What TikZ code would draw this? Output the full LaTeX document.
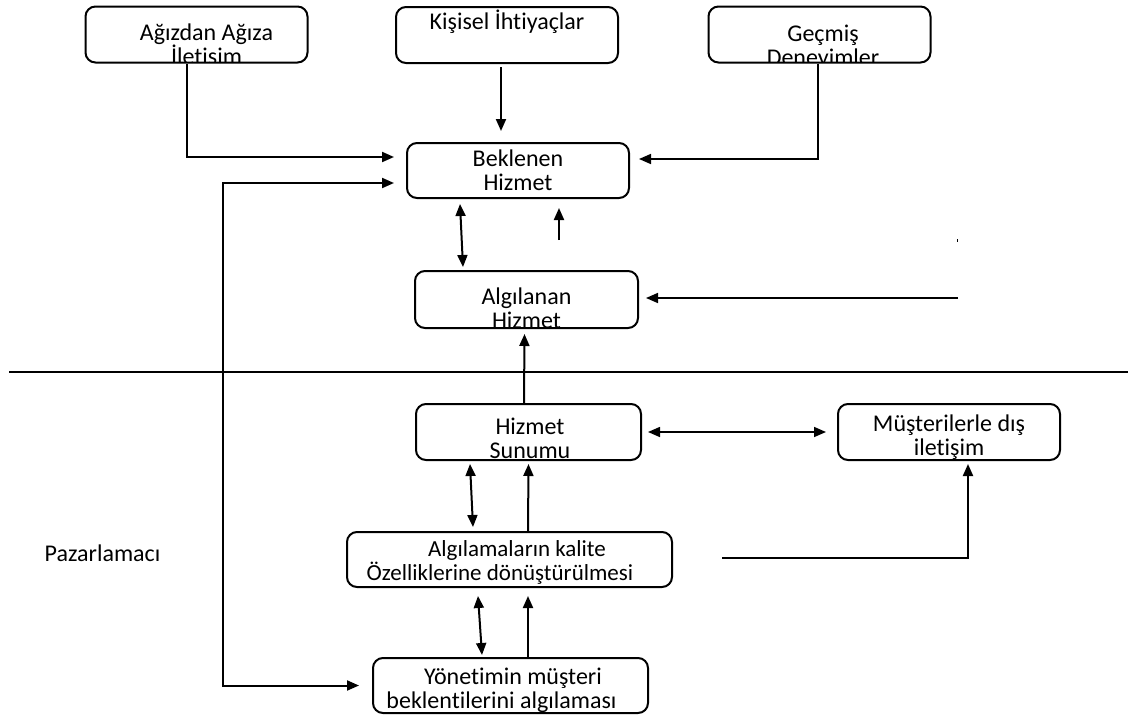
\documentclass[tikz,border=0pt]{standalone}
\usepackage{fontspec}
\setmainfont{Carlito}[Ligatures=NoCommon]
\usetikzlibrary{arrows.meta,calc}

\begin{document}
\begin{tikzpicture}[x=1pt, y=-1pt,
  yazi/.style   = {align=center, inner sep=0pt, draw=none, minimum width=0pt, minimum height=0pt,
                   font=\fontsize{\pgfkeysvalueof{/tikz/boy}}{24}\selectfont},
  ok/.style     = {-{Triangle[length=12pt,width=10pt]}, line width=2pt},
  ciftok/.style = {{Triangle[length=12pt,width=10pt]}-{Triangle[length=12pt,width=10pt]}, line width=2pt}]
  \tikzset{
    boy/.initial    = 24,
    kaydir/.initial = 0pt,
    taban/.initial  = 50pt,
    kutu/.style = {draw, line width=2pt, rounded corners=10pt, inner sep=0pt,
      minimum width=222pt, minimum height=56pt,
      path picture={\node[yazi, anchor=base] at ([xshift=\pgfkeysvalueof{/tikz/kaydir}, yshift=-\pgfkeysvalueof{/tikz/taban}]path picture bounding box.north) {#1};}}
  }
  \useasboundingbox (0,0) rectangle (1128,715);

  % ust sira
  \node[kutu={Ağızdan Ağıza\\İletişim}, kaydir=10pt, taban=58pt] (agiz) at (196.5,34.5) {};
  \node[kutu={Kişisel İhtiyaçlar}, taban=22pt] (kisisel) at (507,35) {};
  \node[kutu={Geçmiş\\Deneyimler}, kaydir=3.5pt, taban=58.5pt] (gecmis) at (819.5,34.5) {};

  \node[kutu={Beklenen\\Hizmet}, taban=47pt, minimum height=55pt] (beklenen) at (518,170.5) {};
  \node[kutu={Algılanan\\Hizmet}, taban=57.5pt, minimum width=223pt, minimum height=57pt] (algilanan) at (526.5,299.5) {};

  % pazarlamaci tarafi
  \node[kutu={Hizmet\\Sunumu}, kaydir=1.5pt, taban=54pt, minimum width=225pt] (sunum) at (528.5,432) {};
  \node[kutu={Müşterilerle dış\\iletişim}, taban=51pt] (musteri) at (949,432) {};
  \node[kutu={\hspace*{34pt}Algılamaların kalite\\Özelliklerine dönüştürülmesi}, boy=23, kaydir=-9.5pt, taban=48pt,
        minimum width=325pt, minimum height=55pt] (donusum) at (509.5,559.5) {};
  \node[kutu={\hspace*{23pt}Yönetimin müşteri\\beklentilerini algılaması}, kaydir=-9pt, taban=50pt,
        minimum width=275pt, minimum height=55pt] (yonetim) at (510.5,685.5) {};

  \node[yazi] (pazar) at (102.5,553) {Pazarlamacı};

  \coordinate (sol)      at (223,0);
  \coordinate (bos)      at (559,240);
  \coordinate (nokta)    at (957,239);
  \coordinate (sag)      at (958,298);
  \coordinate (kopuk)    at (722,558);
  \coordinate (cizgi1)   at (9,372);
  \coordinate (cizgi2)   at (1128,372);
  \coordinate (bekgiris) at ([xshift=-12pt,yshift=-12.5pt]beklenen.west);

  \draw[line width=2pt] (cizgi1) -- (cizgi2);

  \draw[ok] ([xshift=-9.5pt]agiz.south) |- ([xshift=-12pt,yshift=13.5pt]beklenen.west);
  \draw[ok] ([xshift=-6pt,yshift=-3pt]kisisel.south) -- ([xshift=-17pt,yshift=11pt]beklenen.north);
  \draw[ok, line width=1.6pt] ([xshift=-1.5pt]gecmis.south) |- ([xshift=9pt,yshift=11.5pt]beklenen.east);
  \draw[ciftok] (bekgiris) -- (bekgiris -| sol) |- ([xshift=-13pt]yonetim.west);

  \draw[ciftok] ([xshift=-58pt,yshift=-5pt]beklenen.south) -- ([xshift=-63.5pt,yshift=3pt]algilanan.north);
  \draw[ok] (bos) -- ([yshift=-9pt]beklenen.south -| bos);
  \draw[line width=1pt] (nokta) -- ++(0,2.5);
  \draw[ok, line width=1.6pt] (sag) -- ([xshift=7pt]algilanan.east |- sag);

  \draw[ok] ([xshift=-4.5pt]sunum.north) -- ([xshift=-2pt,yshift=-5pt]algilanan.south);
  \draw[ciftok, line width=1.6pt] ([xshift=6pt]sunum.east) -- ([xshift=-11pt]musteri.west);
  \draw[ciftok] ([xshift=-58.5pt,yshift=-3pt]sunum.south) -- ([xshift=-36.5pt,yshift=4pt]donusum.north);
  \draw[ok] ([xshift=18.5pt]donusum.north) -- ([yshift=-3pt]sunum.south);
  \draw[ciftok] ([xshift=-31.5pt,yshift=-8pt]donusum.south) -- ([xshift=-28.5pt,yshift=2pt]yonetim.north);
  \draw[ok] ([xshift=17.5pt]yonetim.north) -- ([xshift=18.5pt,yshift=-8pt]donusum.south);
  \draw[ok] (kopuk) -| ([xshift=19pt,yshift=-3pt]musteri.south);
\end{tikzpicture}
\end{document}
